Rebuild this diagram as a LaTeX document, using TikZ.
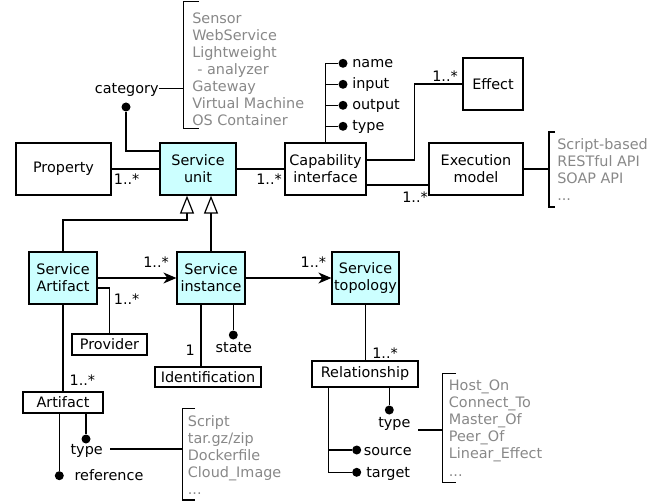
\documentclass[tikz,border=0pt]{standalone}
\usepackage{fontspec}
\setmainfont{DejaVu Sans}
\usetikzlibrary{arrows.meta}
\definecolor{lcyan}{HTML}{CCFFFF}
\definecolor{lgray}{HTML}{888888}
\def\mydots{...}
\begin{document}
\begin{tikzpicture}[x=1pt,y=-1pt,line width=1.2pt,
  every node/.style={font=\fontsize{14.4}{17.1}\selectfont,inner sep=0pt},
  cls/.style={draw,fill=lcyan,align=center,minimum height=52pt},
  plainbox/.style={draw,fill=white,align=center,minimum height=52pt},
  sbox/.style={draw,fill=white,align=center},
  lbl/.style={anchor=base west},
  glist/.style={anchor=base west,text=lgray},
  dot/.style={circle,fill=black,draw=none,minimum size=9pt,inner sep=0pt},
  inh/.style={-{Triangle[open,length=18pt,width=14pt]}},
  nav/.style={-{Stealth[length=13pt,width=11pt,inset=4pt]}}]
\useasboundingbox (0,0) rectangle (668,502);

% boxes
\node[plainbox,minimum width=95pt] (prop) at (63.5,169) {Property};
\node[cls,minimum width=76pt] (su) at (198,169) {Service\\unit};
\node[plainbox,minimum width=81pt] (cap) at (325.5,169) {Capability\\interface};
\node[plainbox,minimum width=60pt] (eff) at (493,84) {Effect};
\node[plainbox,minimum width=94pt] (exec) at (476,169) {Execution\\model};
\node[cls,minimum width=68pt] (sa) at (63,278) {Service\\Artifact};
\node[cls,minimum width=68pt] (si) at (211,278) {Service\\instance};
\node[cls,minimum width=67pt] (st) at (365.5,278) {Service\\topology};
\node[sbox,minimum width=75pt,minimum height=21pt] (prov) at (109.5,344.5) {Provider};
\node[sbox,minimum width=106pt,minimum height=20pt] (ident) at (208,377) {Identification};
\node[sbox,minimum width=80pt,minimum height=21pt] (art) at (63,402.5) {Artifact};
\node[sbox,minimum width=106pt,minimum height=26pt] (rel) at (365,374) {Relationship};

% Property / Capability associations
\draw (prop.east) -- (su.west);
\node[lbl] at (113.3,184.3) {1..*};
\draw (su.east) -- (cap.west);
\node[lbl] at (255.7,184.3) {1..*};

% category
\node[dot] (dcat) at (126,107) {};
\coordinate (y151) at (0,151);
\draw (dcat) |- (su.west |- y151);
\node[lbl] (cat) at (94.3,93.3) {category};
\coordinate (bk1) at (183.3,88.3);
\draw (cat.east |- bk1) -- (bk1);
\draw (199,1.7) -- (183.3,1.7) -- (183.3,128.3) -- (199,128.3);
\foreach \t [count=\i from 0] in {Sensor,WebService,Lightweight,{\hspace*{5pt}- analyzer},Gateway,Virtual Machine,OS Container}
  \node[glist] at (191.7,23.3+17.07*\i) {\t};

% capability attributes
\foreach \n/\y in {name/63.3,input/84.3,output/105.3,type/126.3}{
  \node[dot] (c\n) at (343,\y) {};
  \node[lbl] at (351.7,\y+4.4) {\n};
  \draw (cap.north |- c\n) -- (c\n);
}
\draw (cap.north) -- (cap.north |- cname);

% Effect and Execution model
\draw ([yshift=9pt]cap.east) -- ++(48,0) |- (eff.west);
\node[lbl] at (431.7,81.7) {1..*};
\draw ([yshift=-16pt]cap.east) -- ([yshift=-16pt]exec.west);
\node[lbl] at (401.7,202.7) {1..*};
\coordinate (bk2) at (549,169);
\draw (exec.east) -- (bk2);
\draw (555,132) -- (549,132) -- (549,207) -- (555,207);
\foreach \t [count=\i from 0] in {Script-based,RESTful API,SOAP API,\mydots}
  \node[glist] at (556.7,149.7+17*\i) {\t};

% inheritance
\coordinate (t1) at ([xshift=-11pt]su.south);
\coordinate (t2) at ([xshift=13pt]su.south);
\coordinate (y220) at (0,220);
\draw[inh] (sa.north) |- (t1 |- y220) -- (t1);
\draw[inh] (si.north) -- (t2);

% navigations
\draw[nav] (sa.east) -- (si.west);
\node[lbl] at (142.7,267.3) {1..*};
\draw[nav] (si.east) -- (st.west);
\node[lbl] at (300,267.3) {1..*};

% Provider
\draw ([yshift=-10pt]sa.east) -| (prov.north);
\node[lbl] at (113.3,304) {1..*};

% Artifact
\draw (sa.south) -- (art.north);
\node[lbl] at (69,385.7) {1..*};
\node[dot] (dat) at (86,439) {};
\draw (dat |- art.south) -- (dat);
\node[lbl] (atype) at (70,454.3) {type};
\node[dot] (dref) at (59.3,475.7) {};
\draw (dref |- art.south) -- (dref);
\node[lbl] at (74,480) {reference};
\coordinate (bk3) at (182.3,449);
\coordinate (t3s) at (110,449);
\draw (t3s) -- (bk3);
\draw (195,408.3) -- (182.3,408.3) -- (182.3,500) -- (195,500);
\foreach \t [count=\i from 0] in {Script,tar.gz/zip,Dockerfile,Cloud\_Image,\mydots}
  \node[glist] at (187.3,426+17.1*\i) {\t};

% Service instance
\coordinate (sib) at ([xshift=-10pt]si.south);
\draw (sib) -- (sib |- ident.north);
\node[lbl] at (185,355.7) {1};
\node[dot] (dstate) at (233.3,335) {};
\draw (dstate |- si.south) -- (dstate);
\node[lbl] at (215,352.7) {state};

% Service topology / Relationship
\draw (st.south) -- (st.south |- rel.north);
\node[lbl] at (371.7,358.3) {1..*};
\node[dot] (drt) at (389.3,410) {};
\draw (drt |- rel.south) -- (drt);
\node[lbl] at (377.7,427.7) {type};
\coordinate (bk4) at (442.7,430);
\coordinate (t4s) at (418.3,430);
\draw (t4s) -- (bk4);
\draw (456,373.3) -- (442.7,373.3) -- (442.7,482.7) -- (456,482.7);
\foreach \t [count=\i from 0] in {Host\_On,Connect\_To,Master\_Of,Peer\_Of,Linear\_Effect,\mydots}
  \node[glist] at (448.3,390.7+17.07*\i) {\t};
\node[dot] (dsrc) at (356.7,450) {};
\node[dot] (dtgt) at (356.7,472.3) {};
\coordinate (rl) at (328.3,472.3);
\draw (rl |- rel.south) -- (rl) -- (dtgt);
\draw (rl |- dsrc) -- (dsrc);
\node[lbl] at (363.3,455) {source};
\node[lbl] at (365.7,477.3) {target};
\end{tikzpicture}
\end{document}
